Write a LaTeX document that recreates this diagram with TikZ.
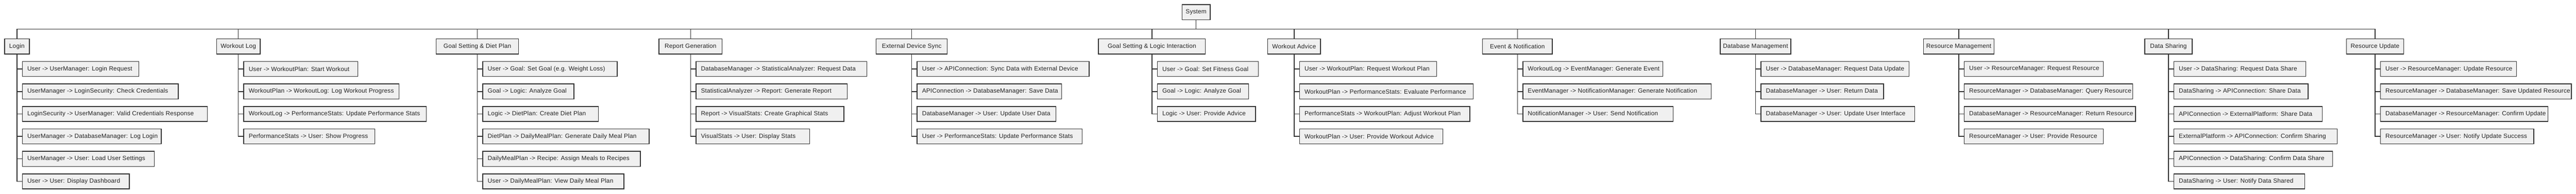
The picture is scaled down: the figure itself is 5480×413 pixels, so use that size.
\documentclass[tikz,border=0pt]{standalone}
\usepackage{fontspec}
\setmainfont{Liberation Sans}[LetterSpace=1.5]
\definecolor{boxfill}{HTML}{F0F0F0}
\definecolor{edgec}{HTML}{333333}
\definecolor{txtc}{HTML}{222222}
\tikzset{
  box/.style={draw=edgec, fill=boxfill, line width=1.6pt, text=txtc,
    font=\fontsize{13}{15.6}\selectfont, minimum height=32pt,
    inner xsep=6pt, inner ysep=0pt},
  leafbox/.style={box, inner xsep=10.5pt},
  link/.style={draw=edgec, line width=1.6pt},
}
% #1 name, #2 centre x, #3 box width, #4 title, #5 list right/text
\newcommand\branch[5]{%
  \node[box, minimum width={(#3-1.5)*1pt}] (#1) at (#2,99) {#4};
  \draw[link] (#1.north) |- (bus);
  \foreach \r/\t [count=\i] in {#5} {
    \pgfmathsetlengthmacro\bw{(\r-#2-10-1.5-21)*1pt}
    \node[leafbox, anchor=west]
      (#1-\i) at ({#2+10.8},{147+47.85*(\i-1)}) {\makebox[\bw][l]{\t}};
    \draw[link] (#1.south) |- (#1-\i.west);
  }
}
\begin{document}
\begin{tikzpicture}[x=1pt,y=-1pt]
\useasboundingbox (0,0) rectangle (5480,413);
\node[box, minimum width=59.5pt] (root) at (2544.5,26) {System};
\coordinate (bus) at (2544.5,62);
\draw[link] (root.south) -- (bus);

\branch{login}{36}{54}{Login}{
  295/User -> UserManager: Login Request,
  379/UserManager -> LoginSecurity: Check Credentials,
  441/LoginSecurity -> UserManager: Valid Credentials Response,
  343/UserManager -> DatabaseManager: Log Login,
  328/UserManager -> User: Load User Settings,
  275/User -> User: Display Dashboard}

\branch{wlog}{507}{94}{Workout Log}{
  761/User -> WorkoutPlan: Start Workout,
  849/WorkoutPlan -> WorkoutLog: Log Workout Progress,
  907/WorkoutLog -> PerformanceStats: Update Performance Stats,
  797/PerformanceStats -> User: Show Progress}

\branch{diet}{1015.5}{177}{Goal Setting \& Diet Plan}{
  1313/{User -> Goal: Set Goal (e.g. Weight Loss)},
  1221/Goal -> Logic: Analyze Goal,
  1273/Logic -> DietPlan: Create Diet Plan,
  1381/DietPlan -> DailyMealPlan: Generate Daily Meal Plan,
  1362/DailyMealPlan -> Recipe: Assign Meals to Recipes,
  1327/User -> DailyMealPlan: View Daily Meal Plan}

\branch{report}{1469}{136}{Report Generation}{
  1844/DatabaseManager -> StatisticalAnalyzer: Request Data,
  1802/StatisticalAnalyzer -> Report: Generate Report,
  1795/Report -> VisualStats: Create Graphical Stats,
  1722/VisualStats -> User: Display Stats}

\branch{sync}{1939.5}{153}{External Device Sync}{
  2317/User -> APIConnection: Sync Data with External Device,
  2258/APIConnection -> DatabaseManager: Save Data,
  2246/DatabaseManager -> User: Update User Data,
  2302/User -> PerformanceStats: Update Performance Stats}

\branch{logic}{2450.5}{229}{Goal Setting \& Logic Interaction}{
  2677/User -> Goal: Set Fitness Goal,
  2656/Goal -> Logic: Analyze Goal,
  2671/Logic -> User: Provide Advice}

\branch{advice}{2753}{114}{Workout Advice}{
  3056/User -> WorkoutPlan: Request Workout Plan,
  3134/WorkoutPlan -> PerformanceStats: Evaluate Performance,
  3127/PerformanceStats -> WorkoutPlan: Adjust Workout Plan,
  3069/WorkoutPlan -> User: Provide Workout Advice}

\branch{event}{3228}{150}{Event \& Notification}{
  3537/WorkoutLog -> EventManager: Generate Event,
  3640/EventManager -> NotificationManager: Generate Notification,
  3559/NotificationManager -> User: Send Notification}

\branch{dbm}{3734.5}{149}{Database Management}{
  4061/User -> DatabaseManager: Request Data Update,
  4007/DatabaseManager -> User: Return Data,
  4073/DatabaseManager -> User: Update User Interface}

\branch{resm}{4167}{150}{Resource Management}{
  4474/User -> ResourceManager: Request Resource,
  4537/ResourceManager -> DatabaseManager: Query Resource,
  4543/DatabaseManager -> ResourceManager: Return Resource,
  4474/ResourceManager -> User: Provide Resource}

\branch{share}{4613}{102}{Data Sharing}{
  4905/User -> DataSharing: Request Data Share,
  4910/DataSharing -> APIConnection: Share Data,
  4940/APIConnection -> ExternalPlatform: Share Data,
  4972/ExternalPlatform -> APIConnection: Confirm Sharing,
  4962/APIConnection -> DataSharing: Confirm Data Share,
  4903/DataSharing -> User: Notify Data Shared}

\branch{resu}{5052.5}{123}{Resource Update}{
  5353/User -> ResourceManager: Update Resource,
  5470/ResourceManager -> DatabaseManager: Save Updated Resource,
  5420/DatabaseManager -> ResourceManager: Confirm Update,
  5390/ResourceManager -> User: Notify Update Success}
\end{tikzpicture}
\end{document}
